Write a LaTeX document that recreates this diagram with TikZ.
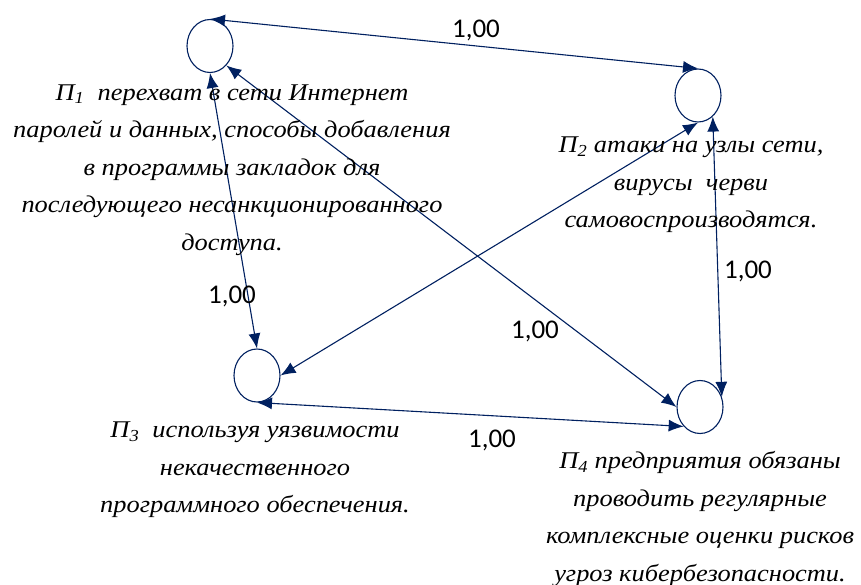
\documentclass[tikz,border=0pt]{standalone}
\usepackage{fontspec}
\setmainfont{Liberation Serif}
\newfontfamily\descfont[FakeStretch=1.1]{Liberation Serif}
\newfontfamily\labelfont{Carlito}
\usetikzlibrary{shapes.geometric,arrows.meta}
\definecolor{navy}{RGB}{0,32,96}
\tikzset{
  state/.style={ellipse, draw=navy, line width=1.1pt, minimum width=46pt, minimum height=53pt, inner sep=0pt},
  link/.style={draw=navy, line width=1.1pt, {Latex[length=15pt,width=12pt]}-{Latex[length=15pt,width=12pt]}},
  desc/.style={align=center, inner sep=0pt, font=\descfont\fontsize{24}{37.5}\selectfont\itshape},
  weight/.style={anchor=base, inner sep=0pt, font=\labelfont\fontsize{27}{30}\selectfont}
}
\begin{document}
\begin{tikzpicture}[x=1pt,y=-1pt]
\useasboundingbox (0,0) rectangle (861,585);

% states
\node[state] (p1) at (210,46) {};
\node[state] (p2) at (698,95.5) {};
\node[state] (p3) at (257,375.5) {};
\node[state] (p4) at (700,407) {};

% transitions
\draw[link] (p1.north) -- (p2.north);
\draw[link] (p1.south) -- (p3.north);
\draw[link] (p1.-50) -- (p4.west);
\draw[link] (p2.south) -- (p3.east);
\draw[link] (p2.-55) -- (p4.25);
\draw[link] (p3.south) -- (p4.230);

% weights
\node[weight] (w12) at (476,38) {1,00};
\node[weight] (w13) at (232,303) {1,00};
\node[weight] (w14) at (535,338) {1,00};
\node[weight] (w24) at (748,278) {1,00};
\node[weight] (w34) at (492,447) {1,00};

% descriptions
\node[desc] (d1) at (232,170) {П\textsubscript{1}\ \ перехват в сети Интернет\\паролей и данных, способы добавления\\в программы закладок для\\последующего несанкционированного\\доступа.};
\node[desc] (d2) at (691,185) {П\textsubscript{2}\ атаки на узлы сети,\\вирусы\ \ черви\\самовоспроизводятся.};
\node[desc] (d3) at (255,470) {П\textsubscript{3}\ \ используя уязвимости\\некачественного\\программного обеспечения.};
\node[desc] (d4) at (700,519) {П\textsubscript{4} предприятия обязаны\\проводить регулярные\\комплексные оценки рисков\\угроз кибербезопасности.};
\end{tikzpicture}
\end{document}
